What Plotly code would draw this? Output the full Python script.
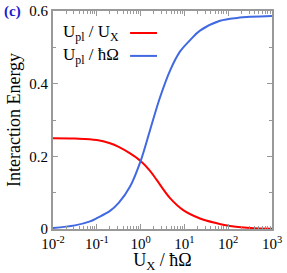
import plotly.graph_objects as go

# data
red_x = [0.01, 0.0316, 0.1, 0.2, 0.316, 0.575, 1.0, 1.64, 2.33, 4.7, 9.4, 22.7, 55.0, 110.0, 316.0, 1000.0]
red_y = [0.250, 0.249, 0.245, 0.236, 0.226, 0.208, 0.187, 0.160, 0.135, 0.085, 0.052, 0.029, 0.0157, 0.008, 0.003, 0.001]

blue_x = [0.01, 0.0316, 0.07, 0.1, 0.2, 0.316, 0.575, 1.0, 1.64, 2.77, 4.7, 7.9, 13.5, 22.7, 65.0, 160.0, 1000.0]
blue_y = [0.003, 0.010, 0.021, 0.030, 0.050, 0.072, 0.117, 0.187, 0.272, 0.362, 0.436, 0.488, 0.520, 0.546, 0.573, 0.581, 0.586]

x_tickvals = [1e-2, 1e-1, 1e0, 1e1, 1e2, 1e3]
x_ticktext = ["10<sup>-2</sup>", "10<sup>-1</sup>", "10<sup>0</sup>", "10<sup>1</sup>", "10<sup>2</sup>", "10<sup>3</sup>"]
y_tickvals = [0, 0.2, 0.4, 0.6]
y_ticktext = ["0", "0.2", "0.4", "0.6"]

minor_x = [m * 10 ** e for e in range(-2, 3) for m in range(2, 10)]
minor_y = [0.1, 0.3, 0.5]

RED = "#ff0000"
BLUE = "#4169e1"
AX = "#999999"
FONT = "Liberation Serif"

fig = go.Figure()
fig.add_trace(go.Scatter(x=red_x, y=red_y, mode="lines", line=dict(color=RED, width=2, shape="spline"), showlegend=False))
fig.add_trace(go.Scatter(x=blue_x, y=blue_y, mode="lines", line=dict(color=BLUE, width=2, shape="spline"), showlegend=False))

fig.update_layout(
    width=287, height=273,
    margin=dict(l=53, r=15, t=11, b=44, autoexpand=False),
    plot_bgcolor="white", paper_bgcolor="white",
    font=dict(family=FONT, size=15, color="black"),
    showlegend=False,
)
fig.update_xaxes(
    type="log", range=[-2, 3], automargin=False, ticklabeloverflow="allow",
    tickvals=x_tickvals, ticktext=x_ticktext,
    ticks="inside", ticklen=5, tickcolor=AX,
    showline=True, linecolor=AX, linewidth=2, mirror="allticks",
    showgrid=False, zeroline=False,
    minor=dict(tickvals=minor_x, ticks="inside", ticklen=3, tickcolor=AX, showgrid=False),
    title=dict(text="U<sub>X</sub> / ħΩ", font=dict(family=FONT, size=18), standoff=3),
    tickfont=dict(family=FONT, size=15),
)
fig.update_yaxes(
    range=[0, 0.6], automargin=False, ticklabeloverflow="allow",
    tickvals=y_tickvals, ticktext=y_ticktext,
    ticks="inside", ticklen=5, tickcolor=AX,
    showline=True, linecolor=AX, linewidth=2, mirror="allticks",
    showgrid=False, zeroline=False,
    minor=dict(tickvals=minor_y, ticks="inside", ticklen=3, tickcolor=AX, showgrid=False),
    title=dict(text="Interaction Energy", font=dict(family=FONT, size=18), standoff=4),
    tickfont=dict(family=FONT, size=15),
)

# legend drawn as text + line samples (text on the left, line on the right)
legend_items = [("U<sub>pl</sub> / U<sub>X</sub>", RED, 0.899), ("U<sub>pl</sub> / ħΩ", BLUE, 0.794)]
for label, col, yy in legend_items:
    fig.add_annotation(xref="paper", yref="paper", x=0.035, y=yy, text=label, showarrow=False,
                       xanchor="left", yanchor="middle", font=dict(family=FONT, size=17))
    fig.add_shape(type="line", xref="paper", yref="paper", x0=0.352, x1=0.475, y0=yy, y1=yy,
                  line=dict(color=col, width=2))

fig.add_annotation(xref="paper", yref="paper", x=-0.235, y=1.0, text="<b>(c)</b>", showarrow=False,
                   xanchor="left", yanchor="middle", font=dict(family=FONT, size=15, color="#1a1ad0"))

fig.write_html("out.html", config={"displayModeBar": False},
               post_script="document.body.style.margin='0';document.body.style.overflow='hidden';")
